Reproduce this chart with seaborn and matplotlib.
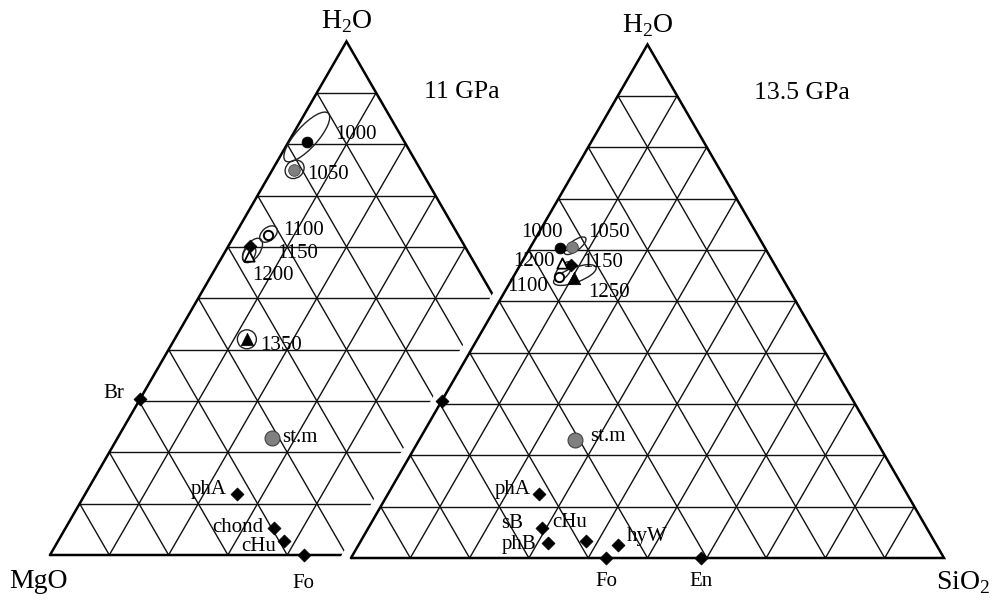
import numpy as np
import pandas as pd
import matplotlib
matplotlib.use("Agg")
import matplotlib.pyplot as plt
from matplotlib.patches import Ellipse, Polygon
import seaborn as sns

# ---------------------------------------------------------------------------
# Compositions in weight fraction: H2O and SiO2 (MgO is the remainder)
# ---------------------------------------------------------------------------
# 11 GPa melt/fluid compositions by temperature (deg C)
run11_temp = ["1000", "1050", "1100", "1150", "1200", "1350"]
run11_h2o = [0.804, 0.749, 0.624, 0.601, 0.582, 0.420]
run11_sio2 = [0.032, 0.037, 0.056, 0.037, 0.044, 0.122]
run11_kind = ["solid", "grey", "open", "diamond", "opentri", "tri"]

# 13.5 GPa melt/fluid compositions by temperature (deg C)
run135_temp = ["1000", "1050", "1100", "1150", "1200", "1250"]
run135_h2o = [0.603, 0.606, 0.548, 0.571, 0.574, 0.545]
run135_sio2 = [0.051, 0.070, 0.076, 0.086, 0.068, 0.104]
run135_kind = ["solid", "grey", "open", "diamond", "opentri", "tri"]

# Phases on the 11 GPa section
phase11_name = ["Br", "phA", "chond", "cHu", "Fo"]
phase11_h2o = [0.303, 0.119, 0.052, 0.028, 0.000]
phase11_sio2 = [0.000, 0.256, 0.352, 0.381, 0.428]

# Phases on the 13.5 GPa section
phase135_name = ["", "phA", "sB", "phB", "cHu", "hyW", "Fo", "En"]
phase135_h2o = [0.306, 0.125, 0.058, 0.030, 0.033, 0.025, 0.000, 0.000]
phase135_sio2 = [0.000, 0.254, 0.293, 0.318, 0.379, 0.437, 0.430, 0.591]

# Starting material
start_h2o = [0.228, 0.230]
start_sio2 = [0.260, 0.263]

# Analytical spread of the compositions (centre H2O, SiO2; axes in wt fraction)
spread11_h2o = [0.814, 0.751, 0.625, 0.593, 0.586, 0.420]
spread11_sio2 = [0.026, 0.037, 0.056, 0.045, 0.043, 0.122]
spread11_major = [0.108, 0.034, 0.034, 0.047, 0.030, 0.032]
spread11_minor = [0.037, 0.029, 0.022, 0.025, 0.019, 0.032]
spread11_angle = [48, 40, 40, 55, 60, 0]

spread135_h2o = [0.608, 0.558, 0.551]
spread135_sio2 = [0.074, 0.079, 0.102]
spread135_major = [0.044, 0.040, 0.076]
spread135_minor = [0.017, 0.019, 0.025]
spread135_angle = [37, 50, 20]

# ---------------------------------------------------------------------------
SQ3 = np.sqrt(3.0)
SIDE_PX = 593.0
LEFT_OFF = (0.0, 0.0)
RIGHT_OFF = (301.0 / SIDE_PX, -3.0 / SIDE_PX)


def to_xy(h2o, sio2, off):
    h = np.asarray(h2o, float)
    s = np.asarray(sio2, float)
    return s + h / 2 + off[0], h * SQ3 / 2 + off[1]


sns.set_theme(style="white")
plt.rcParams["font.family"] = ["Liberation Serif", "DejaVu Serif"]
plt.rcParams["mathtext.fontset"] = "custom"
plt.rcParams["mathtext.rm"] = "Liberation Serif"
plt.rcParams["text.color"] = "black"

fig = plt.figure(figsize=(9.92, 6.0), dpi=100)
ax = fig.add_axes([0, 0, 1, 1])
ax.set_xlim(-50 / SIDE_PX, 942 / SIDE_PX)
ax.set_ylim(-45 / SIDE_PX, 555 / SIDE_PX)
ax.set_aspect("equal")
ax.axis("off")

# The low-pressure section is cut just short of the left edge of the other one
gap = 11.0 / SIDE_PX


def clip_x(y):
    return RIGHT_OFF[0] - gap + (y - RIGHT_OFF[1]) / SQ3


clip_poly = Polygon([(-1, -1), (clip_x(-1), -1), (clip_x(2), 2), (-1, 2)],
                    closed=True, transform=ax.transData)

GRID_LW = 1.0
EDGE_LW = 1.8


def draw_triangle(off, clipped):
    lines = []
    for k in range(1, 10):
        f = k / 10
        # constant H2O
        lines.append(to_xy([f, f], [0, 1 - f], off))
        # constant SiO2
        lines.append(to_xy([0, 1 - f], [f, f], off))
        # constant MgO
        lines.append(to_xy([0, 1 - f], [1 - f, 0], off))
    arts = []
    for xs, ys in lines:
        arts += ax.plot(xs, ys, color="#111111", lw=GRID_LW, zorder=1)
    xs, ys = to_xy([0, 0, 1, 0], [0, 1, 0, 0], off)
    arts += ax.plot(xs, ys, color="black", lw=EDGE_LW, zorder=2,
                    solid_joinstyle="miter")
    if clipped:
        for a in arts:
            a.set_clip_path(clip_poly)


draw_triangle(LEFT_OFF, True)
draw_triangle(RIGHT_OFF, False)

# Spread ellipses
for hs, ss, ma, mi, an, off in [
    (spread11_h2o, spread11_sio2, spread11_major, spread11_minor, spread11_angle, LEFT_OFF),
    (spread135_h2o, spread135_sio2, spread135_major, spread135_minor, spread135_angle, RIGHT_OFF),
]:
    cx, cy = to_xy(hs, ss, off)
    for x, y, a, b, t in zip(cx, cy, ma, mi, an):
        ax.add_patch(Ellipse((x, y), a, b, angle=t, fill=False,
                             edgecolor="#222222", lw=1.0, zorder=3))

# Collect all points into one table
rows = []
for names, hs, ss, kinds, off, panel in [
    (run11_temp, run11_h2o, run11_sio2, run11_kind, LEFT_OFF, "L"),
    (run135_temp, run135_h2o, run135_sio2, run135_kind, RIGHT_OFF, "R"),
    (phase11_name, phase11_h2o, phase11_sio2, ["phase"] * len(phase11_name), LEFT_OFF, "L"),
    (phase135_name, phase135_h2o, phase135_sio2, ["phase"] * len(phase135_name), RIGHT_OFF, "R"),
    (["st.m", "st.m"], start_h2o, start_sio2, ["start", "start"], None, None),
]:
    for i, (n, h, s, k) in enumerate(zip(names, hs, ss, kinds)):
        o = off if off is not None else (LEFT_OFF if i == 0 else RIGHT_OFF)
        p = panel if panel is not None else ("L" if i == 0 else "R")
        x, y = to_xy(h, s, o)
        rows.append(dict(label=n, X=float(x), Y=float(y), kind=k, panel=p))
pts = pd.DataFrame(rows)

styles = {
    "solid": dict(marker="o", s=60, color="black", edgecolor="black", linewidth=0.6),
    "grey": dict(marker="o", s=70, color="#7f7f7f", edgecolor="#444444", linewidth=0.6),
    "open": dict(marker="o", s=45, color="white", edgecolor="black", linewidth=1.4),
    "diamond": dict(marker="D", s=42, color="black", edgecolor="black", linewidth=0.5),
    "opentri": dict(marker="^", s=55, color="white", edgecolor="black", linewidth=1.3),
    "tri": dict(marker="^", s=80, color="black", edgecolor="black", linewidth=0.5),
    "phase": dict(marker="D", s=44, color="black", edgecolor="black", linewidth=0.5),
    "start": dict(marker="o", s=115, color="#808080", edgecolor="#404040", linewidth=0.8),
}
for kind, st in styles.items():
    sub = pts[pts["kind"] == kind]
    sns.scatterplot(data=sub, x="X", y="Y", ax=ax, legend=False, zorder=5, **st)
ax.set_xlabel("")
ax.set_ylabel("")

# Label placement (offset in pixels right / down, horizontal alignment)
label_pos = {
    ("L", "1000"): (28, -8, "left"),
    ("L", "1050"): (13, 4, "left"),
    ("L", "1100"): (15, -4, "left"),
    ("L", "1150"): (27, 7, "left"),
    ("L", "1200"): (4, 19, "left"),
    ("L", "1350"): (13, 6, "left"),
    ("L", "Br"): (-16, -6, "right"),
    ("L", "st.m"): (10, 0, "left"),
    ("L", "phA"): (-10, -4, "right"),
    ("L", "chond"): (-11, -1, "right"),
    ("L", "cHu"): (-8, 6, "right"),
    ("L", "Fo"): (0, 28, "center"),
    ("R", "1000"): (3, -16, "right"),
    ("R", "1050"): (16, -14, "left"),
    ("R", "1100"): (-11, 10, "right"),
    ("R", "1150"): (11, -2, "left"),
    ("R", "1200"): (-7, -2, "right"),
    ("R", "1250"): (14, 14, "left"),
    ("R", "st.m"): (15, -3, "left"),
    ("R", "phA"): (-8, -4, "right"),
    ("R", "sB"): (-19, -5, "right"),
    ("R", "phB"): (-12, 2, "right"),
    ("R", "cHu"): (-33, -19, "left"),
    ("R", "hyW"): (9, -9, "left"),
    ("R", "Fo"): (0, 23, "center"),
    ("R", "En"): (0, 23, "center"),
}
for _, r in pts.iterrows():
    if not r["label"]:
        continue
    dx, dy, ha = label_pos[(r["panel"], r["label"])]
    ax.annotate(r["label"], (r["X"], r["Y"]), xytext=(dx, -dy),
                textcoords="offset pixels", ha=ha, va="center",
                fontsize=15, color="black", zorder=6)

# Apex and corner labels
corner_fs = 20
for off, dy in [(LEFT_OFF, -20), (RIGHT_OFF, -19)]:
    x, y = to_xy(1, 0, off)
    ax.annotate(r"H$_\mathrm{2}$O", (x, y), xytext=(0, -dy), textcoords="offset pixels",
                ha="center", va="center", fontsize=corner_fs, color="black")
x, y = to_xy(0, 0, LEFT_OFF)
ax.annotate("MgO", (x, y), xytext=(-12, -27), textcoords="offset pixels",
            ha="center", va="center", fontsize=corner_fs, color="black")
x, y = to_xy(0, 1, RIGHT_OFF)
ax.annotate(r"SiO$_\mathrm{2}$", (x, y), xytext=(19, -25), textcoords="offset pixels",
            ha="center", va="center", fontsize=corner_fs, color="black")

fig.text(462 / 992, 1 - 92 / 600, "11 GPa", ha="center", va="center",
         fontsize=18.5, color="black")
fig.text(802 / 992, 1 - 93 / 600, "13.5 GPa", ha="center", va="center",
         fontsize=18.5, color="black")

fig.savefig("out.png", dpi=100, facecolor="white")
